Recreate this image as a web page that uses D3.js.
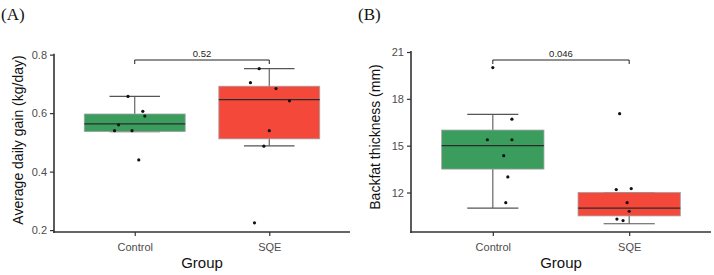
<!DOCTYPE html>
<html>
<head>
<meta charset="utf-8">
<script src="https://cdn.jsdelivr.net/npm/d3@7"></script>
<style>
  body { margin: 0; background: #fff; }
  svg { display: block; font-family: "Liberation Sans", Arial, sans-serif; }
</style>
</head>
<body>
<svg id="drawing_region" width="714" height="275"></svg>
<script>
// Groups
const groups = ["Control", "SQE"];
const groupColors = ["#3a9d5d", "#f4493a"];

// (A) Average daily gain: box stats per group [low whisker, q1, median, q3, high whisker]
const adgBox = {
    Control: [0.537, 0.537, 0.563, 0.597, 0.657],
    SQE: [0.488, 0.512, 0.646, 0.692, 0.752]
};
const adgControl = [0.657, 0.606, 0.590, 0.560, 0.540, 0.540, 0.440];
const adgSQE = [0.752, 0.704, 0.684, 0.642, 0.540, 0.487, 0.225];
const adgJitterControl = [-0.05, 0.06, 0.075, -0.12, -0.15, -0.02, 0.03];
const adgJitterSQE = [-0.075, -0.14, 0.05, 0.15, 0.0, -0.04, -0.11];
const adgTicks = [0.2, 0.4, 0.6, 0.8];
const adgP = "0.52";

// (B) Backfat thickness
const bfBox = {
    Control: [11.0, 13.5, 15.0, 16.0, 17.0],
    SQE: [10.0, 10.5, 11.0, 12.0, 12.0]
};
const bfControl = [20.0, 16.7, 15.38, 15.38, 14.36, 13.0, 11.35];
const bfSQE = [17.05, 12.19, 12.25, 11.35, 10.8, 10.3, 10.2];
const bfJitterControl = [0.0, 0.14, -0.04, 0.14, 0.08, 0.11, 0.095];
const bfJitterSQE = [-0.07, -0.095, 0.015, -0.015, 0.0, -0.09, -0.045];
const bfTicks = [12, 15, 18, 21];
const bfP = "0.046";

const svg = d3.select('#drawing_region');

function drawPanel(cfg) {
    const g = svg.append('g');

    const x = d3.scalePoint()
        .domain(groups)
        .range([cfg.left, cfg.right])
        .padding(0.6);
    const unit = x.step();

    const y = d3.scaleLinear()
        .domain(cfg.domain)
        .range([232, 52]);

    // panel letter
    svg.append('text')
        .attr('x', cfg.letterX)
        .attr('y', 20)
        .attr('font-family', '"Liberation Serif", "Times New Roman", serif')
        .attr('font-size', '17px')
        .attr('fill', '#111')
        .text(cfg.letter);

    const boxW = unit * 0.75;

    groups.forEach((grp, i) => {
        const s = cfg.box[grp];
        const cx = x(grp);
        // whisker vertical
        g.append('line')
            .attr('x1', cx).attr('x2', cx)
            .attr('y1', y(s[0])).attr('y2', y(s[4]))
            .attr('stroke', '#666').attr('stroke-width', 1.2);
        // caps
        [s[0], s[4]].forEach(v => {
            g.append('line')
                .attr('x1', cx - boxW / 4).attr('x2', cx + boxW / 4)
                .attr('y1', y(v)).attr('y2', y(v))
                .attr('stroke', '#555').attr('stroke-width', 1.2);
        });
        // box
        g.append('rect')
            .attr('x', cx - boxW / 2)
            .attr('y', y(s[3]))
            .attr('width', boxW)
            .attr('height', y(s[1]) - y(s[3]))
            .attr('fill', groupColors[i])
            .attr('stroke', '#a0a0a0')
            .attr('stroke-width', 0.8);
        // median
        g.append('line')
            .attr('x1', cx - boxW / 2).attr('x2', cx + boxW / 2)
            .attr('y1', y(s[2])).attr('y2', y(s[2]))
            .attr('stroke', '#2b2b2b').attr('stroke-width', 1.3);
    });

    // jittered points
    groups.forEach((grp, i) => {
        const vals = cfg.points[i];
        const jit = cfg.jitter[i];
        g.selectAll(null)
            .data(vals)
            .join('circle')
            .attr('cx', (d, k) => x(grp) + jit[k] * unit)
            .attr('cy', d => y(d))
            .attr('r', 1.6)
            .attr('fill', '#111');
    });

    // axes
    const yAxis = d3.axisLeft(y).tickValues(cfg.ticks).tickSize(4).tickSizeOuter(0)
        .tickFormat(cfg.fmt);
    const ya = g.append('g')
        .attr('transform', `translate(${cfg.left},0)`)
        .call(yAxis);
    ya.select('.domain').attr('stroke', '#333').attr('stroke-width', 1.6)
        .attr('d', `M0,${y(cfg.ticks[cfg.ticks.length - 1]) - 1}V233`);
    ya.selectAll('.tick line').attr('stroke', '#333').attr('stroke-width', 1.2);
    ya.selectAll('.tick text').attr('font-size', '11px').attr('fill', '#4d4d4d')
        .attr('font-family', '"Liberation Sans", Arial, sans-serif');

    const xAxis = d3.axisBottom(x).tickSize(4).tickSizeOuter(0);
    const xa = g.append('g')
        .attr('transform', 'translate(0,232)')
        .call(xAxis);
    xa.select('.domain').attr('stroke', '#333').attr('stroke-width', 1.6)
        .attr('d', `M${cfg.left - 0.8},0H${cfg.right}`);
    xa.selectAll('.tick line').attr('stroke', '#333').attr('stroke-width', 1.2);
    xa.selectAll('.tick text').attr('font-size', '11px').attr('fill', '#4d4d4d')
        .attr('dy', '1.05em')
        .attr('font-family', '"Liberation Sans", Arial, sans-serif');

    // axis titles
    g.append('text')
        .attr('x', (cfg.left + cfg.right) / 2)
        .attr('y', 268)
        .attr('text-anchor', 'middle')
        .attr('font-size', '15px')
        .attr('fill', '#111')
        .text('Group');

    g.append('text')
        .attr('transform', `translate(${cfg.titleX}, ${cfg.titleY}) rotate(-90)`)
        .attr('text-anchor', 'middle')
        .attr('font-size', '14px')
        .attr('fill', '#111')
        .text(cfg.yTitle);

    // significance bracket
    const by = 60;
    const x1 = x(groups[0]), x2 = x(groups[1]);
    g.append('path')
        .attr('d', `M${x1},${by + 4}V${by}H${x2}V${by + 4}`)
        .attr('fill', 'none')
        .attr('stroke', '#222')
        .attr('stroke-width', 1);
    g.append('text')
        .attr('x', (x1 + x2) / 2)
        .attr('y', by - 3)
        .attr('text-anchor', 'middle')
        .attr('font-size', '9.5px')
        .attr('fill', '#222')
        .text(cfg.p);
}

drawPanel({
    letter: '(A)', letterX: 1,
    left: 54, right: 350,
    domain: [0.1935, 0.809],
    box: adgBox,
    points: [adgControl, adgSQE],
    jitter: [adgJitterControl, adgJitterSQE],
    ticks: adgTicks,
    fmt: d3.format('.1f'),
    yTitle: 'Average daily gain (kg/day)',
    titleX: 23, titleY: 140,
    p: adgP
});

drawPanel({
    letter: '(B)', letterX: 358,
    left: 411, right: 711,
    domain: [9.47, 21.0],
    box: bfBox,
    points: [bfControl, bfSQE],
    jitter: [bfJitterControl, bfJitterSQE],
    ticks: bfTicks,
    fmt: d3.format('d'),
    yTitle: 'Backfat thickness (mm)',
    titleX: 380, titleY: 137,
    p: bfP
});
</script>
</body>
</html>
